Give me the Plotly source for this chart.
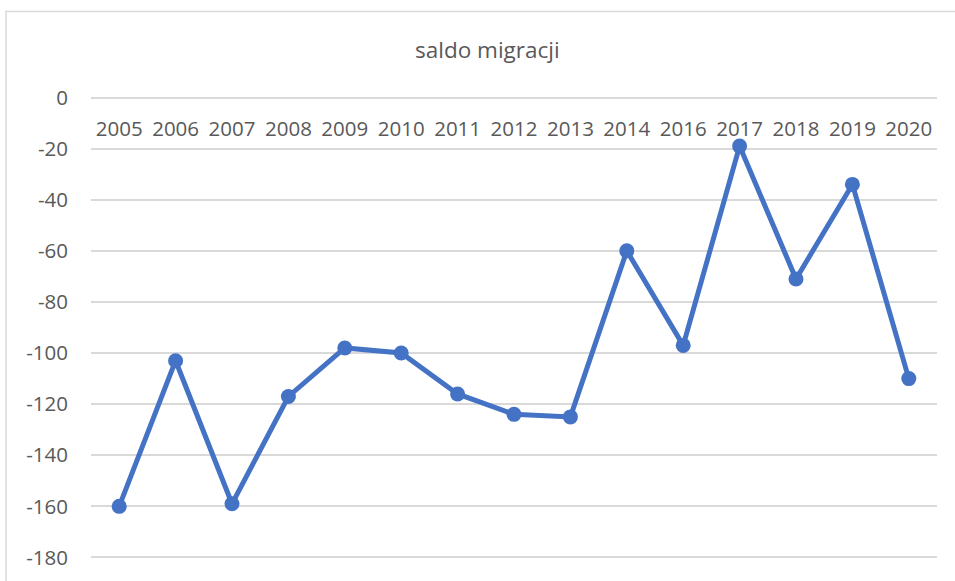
import plotly.graph_objects as go

years = ["2005", "2006", "2007", "2008", "2009", "2010", "2011", "2012",
         "2013", "2014", "2016", "2017", "2018", "2019", "2020"]
saldo = [-160, -103, -159, -117, -98, -100, -116, -124, -125, -60, -97, -19, -71, -34, -110]
y_ticks = [0, -20, -40, -60, -80, -100, -120, -140, -160, -180]
y_tick_text = ["0", "-20", "-40", "-60", "-80", "-100", "-120", "-140", "-160", "-180"]

W, H = 955, 581
# pixel layout of the value range 0 .. -180 (top .. bottom)
y_top_px, y_bot_px = 98, 557
px_per_unit = (y_bot_px - y_top_px) / 180.0
pad_units = 1.0
pad_px = pad_units * px_per_unit

L, R = 91, 18
T = y_top_px - pad_px
B = H - y_bot_px - pad_px
pw, ph = W - L - R, H - T - B

fig = go.Figure()
fig.add_trace(go.Scatter(
    x=years, y=saldo, mode="lines+markers",
    line=dict(color="#4472C4", width=5),
    marker=dict(color="#4472C4", size=15),
    showlegend=False, hoverinfo="x+y",
))

font_family = "Open Sans, Noto Sans, sans-serif"
fig.update_layout(
    width=W, height=H,
    margin=dict(l=L, r=R, t=T, b=B, autoexpand=False),
    paper_bgcolor="white", plot_bgcolor="white",
    font=dict(family=font_family, color="#595959", size=20),
    xaxis=dict(
        type="category", side="bottom", anchor="free",
        position=1 - (17 + pad_px) / ph,
        showgrid=False, showline=False, zeroline=False, ticks="",
        tickfont=dict(size=20.5, color="#595959"),
        range=[-0.5, len(years) - 0.5],
    ),
    yaxis=dict(
        range=[-180 - pad_units, 0 + pad_units], tickvals=y_ticks, ticktext=y_tick_text,
        showgrid=True, gridcolor="#d9d9d9", gridwidth=1.5,
        zeroline=False, showline=False, ticks="",
        ticklabelstandoff=22,
        tickfont=dict(size=20.5, color="#595959"),
    ),
    annotations=[dict(
        text="saldo migracji", xref="paper", yref="paper",
        x=(487 - L) / pw, y=(H - B - 50) / ph,
        xanchor="center", yanchor="middle", showarrow=False,
        font=dict(size=22.5, color="#595959", family=font_family),
    )],
    shapes=[dict(
        type="rect", xref="paper", yref="paper", layer="below",
        x0=(6 - L) / pw, x1=1.2, y0=-0.3, y1=(H - B - 12) / ph,
        line=dict(color="#d9d9d9", width=1.5), fillcolor="rgba(0,0,0,0)",
    )],
)

fig.write_html("out.html", config={"displayModeBar": False},
               post_script="document.body.style.margin='0';document.body.style.overflow='hidden';")
